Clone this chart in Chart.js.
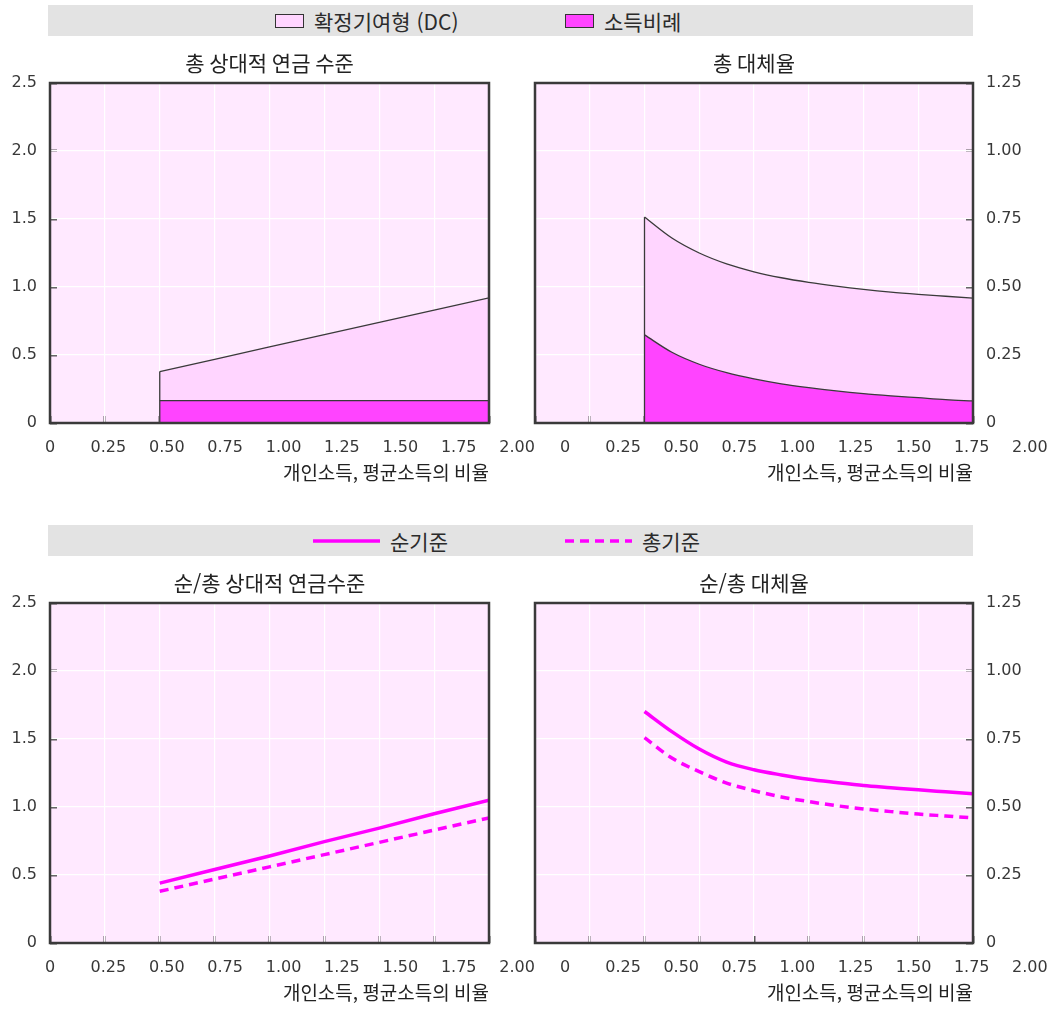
<!DOCTYPE html>
<html lang="ko">
<head>
<meta charset="utf-8">
<title>연금 수준 및 대체율</title>
<script src="https://cdn.jsdelivr.net/npm/chart.js@4.4.1/dist/chart.umd.min.js"></script>
<style>
  html, body { margin: 0; padding: 0; background: #fff; }
  body { position: relative; width: 1055px; height: 1009px; overflow: hidden;
         font-family: 'Noto Sans CJK KR', sans-serif; color: #2b2b2b; }
  .bar { position: absolute; left: 48px; width: 925px; height: 31px; background: #E3E3E3; }
  .item { position: absolute; top: 0; height: 31px; display: flex; align-items: center;
          font-size: 21px; white-space: nowrap; }
  .box { width: 27px; height: 12px; border: 1.5px solid #333; margin-right: 10px; }
  .item svg { margin-right: 10px; }
  canvas { position: absolute; }
</style>
</head>
<body>

<div class="bar" style="top:5px">
  <div class="item" style="left:227px"><span class="box" style="background:#FFD5FF"></span>확정기여형 (DC)</div>
  <div class="item" style="left:517px"><span class="box" style="background:#FF44FF"></span>소득비례</div>
</div>

<div class="bar" style="top:525px">
  <div class="item" style="left:265px">
    <svg width="67" height="8"><line x1="0" y1="4" x2="67" y2="4" stroke="#FF00FF" stroke-width="3.5"/></svg>순기준</div>
  <div class="item" style="left:517px">
    <svg width="67" height="8"><line x1="0" y1="4" x2="67" y2="4" stroke="#FF00FF" stroke-width="3.5" stroke-dasharray="9 6"/></svg>총기준</div>
</div>

<canvas id="chartRelGross"  width="545" height="447" style="left:0;top:40px"></canvas>
<canvas id="chartRrGross"   width="535" height="447" style="left:520px;top:40px"></canvas>
<canvas id="chartRelNet"    width="545" height="447" style="left:0;top:560px"></canvas>
<canvas id="chartRrNet"     width="535" height="447" style="left:520px;top:560px"></canvas>

<script>
// ===== 데이터 =====
const xTickLabels = ['0', '0.25', '0.50', '0.75', '1.00', '1.25', '1.50', '1.75', '2.00'];
const xGrid = [0, 0.25, 0.5, 0.75, 1.0, 1.25, 1.5, 1.75, 2.0];

// 개인소득 (평균소득 대비 배수)
const earnings     = [0.5, 0.75, 1.0, 1.25, 1.5, 1.75, 2.0];
const earningsFine = [0.5, 0.625, 0.75, 0.875, 1.0, 1.125, 1.25, 1.375, 1.5, 1.625, 1.75, 1.875, 2.0];

// 총 상대적 연금 수준 (상단 좌측)
const relEarningsRelated = [0.165, 0.165, 0.165, 0.165, 0.165, 0.165, 0.165];
const relTotal           = [0.378, 0.468, 0.559, 0.650, 0.740, 0.830, 0.920];

// 총 대체율 (상단 우측)
const rrEarningsRelated = [0.324, 0.260, 0.216, 0.185, 0.162, 0.144, 0.130, 0.118, 0.108, 0.100, 0.093, 0.086, 0.081];
const rrTotal           = [0.757, 0.680, 0.625, 0.585, 0.556, 0.534, 0.517, 0.503, 0.491, 0.481, 0.473, 0.466, 0.459];

// 순/총 상대적 연금수준 (하단 좌측)
const relNet   = [0.44, 0.54, 0.64, 0.745, 0.845, 0.95, 1.05];
const relGross = [0.38, 0.47, 0.56, 0.65, 0.74, 0.83, 0.92];

// 순/총 대체율 (하단 우측)
const rrNet   = [0.851, 0.777, 0.713, 0.665, 0.637, 0.618, 0.602, 0.590, 0.579, 0.571, 0.563, 0.556, 0.549];
const rrGross = [0.755, 0.680, 0.630, 0.588, 0.560, 0.537, 0.520, 0.505, 0.493, 0.483, 0.474, 0.467, 0.460];

// ===== 스타일 =====
const C = {
  plotBg: '#FFE9FF',
  dc:     '#FFD5FF',
  er:     '#FF44FF',
  line:   '#FF00FF',
  edge:   '#3a3a3a',
  frame:  '#3a3a3a',
  tick:   '#333',
  grid:   '#FFFFFF',
  text:   '#383838'
};
const KR = "'Noto Sans CJK KR', sans-serif";
const tickFont = { family: "'DejaVu Sans', sans-serif", size: 16, lineHeight: 1.2 };
const xTitle = '개인소득, 평균소득의 비율';

// 눈금 라벨 위치 (원본 도판의 배치)
const LABELS_LEFT  = { x0: 0,     dx: 0.266 };
const LABELS_RIGHT = { x0: 0.137, dx: 0.2653 };

const pts = (xs, ys) => xs.map((x, i) => ({ x, y: ys[i] }));

const pluginFrame = {
  id: 'frame',
  beforeDraw(chart) {
    const { ctx, chartArea: a } = chart;
    ctx.save();
    ctx.fillStyle = C.plotBg;
    ctx.fillRect(a.left, a.top, a.width, a.height);
    ctx.restore();
  },
  afterDatasetsDraw(chart) {
    const { ctx, chartArea: a } = chart;
    ctx.save();
    ctx.strokeStyle = C.frame;
    ctx.lineWidth = 2.5;
    ctx.strokeRect(a.left, a.top, a.width, a.height);
    ctx.restore();
  }
};

function panel(id, side, yMax, yStep, dec, labels, title, datasets) {
  const el = document.getElementById(id);
  if (!el) return;
  const left = side === 'left';
  new Chart(el, {
    type: 'line',
    data: { datasets },
    plugins: [pluginFrame],
    options: {
      responsive: false, animation: false,
      layout: { padding: left ? { left: 0, right: 56, top: 0, bottom: 0 } : { left: 15, right: 0, top: 0, bottom: 0 } },
      elements: { point: { radius: 0 } },
      plugins: {
        legend: { display: false },
        tooltip: { enabled: false },
        title: {
          display: true, text: title, fullSize: false, color: '#222',
          font: { family: KR, size: 21, weight: 'normal', lineHeight: 1.2 },
          padding: { top: 10, bottom: 7.8 }
        }
      },
      scales: {
        x: {
          type: 'linear', position: 'bottom', min: 0, max: 2, z: 1,
          afterBuildTicks: s => {
            const t = xTickLabels.map((lbl, i) => ({ value: labels.x0 + i * labels.dx, lbl, kind: 'label' }));
            xGrid.forEach(v => t.push({ value: v, lbl: '', kind: 'grid' }));
            s.ticks = t;
          },
          ticks: {
            autoSkip: false, maxRotation: 0, padding: 22, font: tickFont, color: C.text,
            callback: (v, i, t) => t[i].lbl
          },
          grid: {
            drawOnChartArea: false, drawTicks: true, tickLength: -7, tickWidth: 1.8,
            tickColor: c => (c.tick && c.tick.kind === 'grid') ? C.tick : 'rgba(0,0,0,0)'
          },
          border: { display: false },
          title: {
            display: true, text: xTitle, align: 'end', color: '#222',
            font: { family: KR, size: 19, lineHeight: 1.2 }, padding: { top: 0, bottom: 3 }
          },
          afterFit: s => { s.height = 64; s.paddingLeft = 0; s.paddingRight = 0; }
        },
        xg: {
          type: 'linear', position: 'top', min: 0, max: 2,
          afterBuildTicks: s => { s.ticks = xGrid.map(v => ({ value: v })); },
          ticks: { display: false },
          grid: { color: C.grid, lineWidth: 1.2, drawTicks: false },
          border: { display: false },
          afterFit: s => { s.height = 0; }
        },
        y: {
          position: side, min: 0, max: yMax, z: 1,
          ticks: {
            stepSize: yStep, padding: 20, font: tickFont, color: C.text,
            callback: v => v === 0 ? '0' : v.toFixed(dec)
          },
          grid: { drawOnChartArea: false, drawTicks: true, tickLength: -7, tickWidth: 1.8, tickColor: C.tick },
          border: { display: false },
          afterFit: s => { s.width = left ? 50 : 82; }
        },
        yg: {
          position: left ? 'right' : 'left', min: 0, max: yMax,
          ticks: { display: false, stepSize: yStep },
          grid: { color: C.grid, lineWidth: 1.2, drawTicks: false },
          border: { display: false },
          afterFit: s => { s.width = 0; }
        }
      }
    }
  });
}

// 누적 영역 (확정기여형 위 / 소득비례 아래) + 시작 경계선
function areaSets(xs, er, total, curve) {
  const mode = curve ? 'monotone' : 'default';
  return [
    { label: 'edge', data: [{ x: xs[0], y: 0 }, { x: xs[0], y: total[0] }],
      borderColor: C.edge, borderWidth: 1.3, fill: false },
    { label: '소득비례', data: pts(xs, er), borderColor: C.edge, borderWidth: 1.3,
      backgroundColor: C.er, fill: 'origin', cubicInterpolationMode: mode },
    { label: '확정기여형 (DC)', data: pts(xs, total), borderColor: C.edge, borderWidth: 1.3,
      backgroundColor: C.dc, fill: '-1', cubicInterpolationMode: mode }
  ];
}

function lineSets(xs, net, gross, curve) {
  const mode = curve ? 'monotone' : 'default';
  return [
    { label: '순기준', data: pts(xs, net), borderColor: C.line, borderWidth: 3.5,
      fill: false, cubicInterpolationMode: mode },
    { label: '총기준', data: pts(xs, gross), borderColor: C.line, borderWidth: 3.5,
      borderDash: [9, 6], fill: false, cubicInterpolationMode: mode }
  ];
}

// ===== CHART 1 — 총 상대적 연금 수준 =====
panel('chartRelGross', 'left', 2.5, 0.5, 1, LABELS_LEFT, '총 상대적 연금 수준',
  areaSets(earnings, relEarningsRelated, relTotal, false));

// ===== CHART 2 — 총 대체율 =====
panel('chartRrGross', 'right', 1.25, 0.25, 2, LABELS_RIGHT, '총 대체율',
  areaSets(earningsFine, rrEarningsRelated, rrTotal, true));

// ===== CHART 3 — 순/총 상대적 연금수준 =====
panel('chartRelNet', 'left', 2.5, 0.5, 1, LABELS_LEFT, '순/총 상대적 연금수준',
  lineSets(earnings, relNet, relGross, false));

// ===== CHART 4 — 순/총 대체율 =====
panel('chartRrNet', 'right', 1.25, 0.25, 2, LABELS_RIGHT, '순/총 대체율',
  lineSets(earningsFine, rrNet, rrGross, true));
</script>
</body>
</html>
